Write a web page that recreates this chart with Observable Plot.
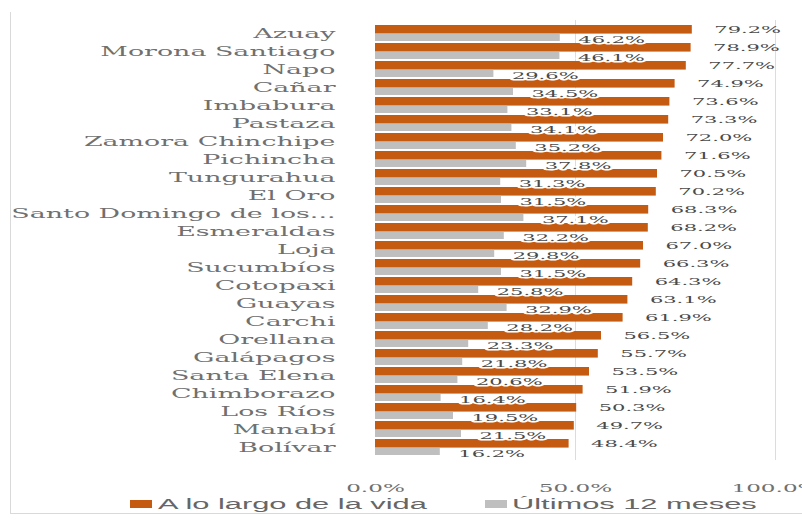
<!DOCTYPE html>
<html><head><meta charset="utf-8">
<script src="https://cdn.jsdelivr.net/npm/d3@7"></script>
<script src="https://cdn.jsdelivr.net/npm/@observablehq/plot@0.6"></script>
<style>
body{margin:0;background:#fff;}
#wrap{position:relative;width:802px;height:521px;overflow:hidden;background:#fff;}
#frame{position:absolute;left:10px;top:12px;width:792px;height:501px;border-left:1px solid #d9d9d9;border-bottom:1px solid #d9d9d9;pointer-events:none;}
#chart{position:absolute;left:0;top:0;}
#chart svg{overflow:visible;}
.sw{position:absolute;width:22px;height:8px;top:500px;}
.lt{position:absolute;top:495px;font-family:"Liberation Sans",Arial,sans-serif;font-size:14px;line-height:18px;color:#666;transform:scaleX(2.2);transform-origin:left center;white-space:nowrap;}
</style></head>
<body>
<div id="wrap">
  <div id="chart"></div>
  <div id="legend"></div>
  <div id="frame"></div>
</div>
<script>
const provinces = ["Azuay","Morona Santiago","Napo","Cañar","Imbabura","Pastaza","Zamora Chinchipe","Pichincha","Tungurahua","El Oro","Santo Domingo de los...","Esmeraldas","Loja","Sucumbíos","Cotopaxi","Guayas","Carchi","Orellana","Galápagos","Santa Elena","Chimborazo","Los Ríos","Manabí","Bolívar"];
const lifetime = [79.2,78.9,77.7,74.9,73.6,73.3,72.0,71.6,70.5,70.2,68.3,68.2,67.0,66.3,64.3,63.1,61.9,56.5,55.7,53.5,51.9,50.3,49.7,48.4];
const last12 = [46.2,46.1,29.6,34.5,33.1,34.1,35.2,37.8,31.3,31.5,37.1,32.2,29.8,31.5,25.8,32.9,28.2,23.3,21.8,20.6,16.4,19.5,21.5,16.2];
const xTicks = [0,50,100];
const seriesNames = ["A lo largo de la vida","Últimos 12 meses"];
const seriesColors = ["#C55A11","#BFBFBF"];

const rows = provinces.map((p,i)=>({province:p, lifetime:lifetime[i], last12:last12[i]}));
const fmt = v => v.toFixed(1) + "%";

const mt = 20, mb = 40, H = 500;
const step = (H - mt - mb) / (provinces.length - 0.1 + 0.2);
const bw = step * 0.9;

const chart = Plot.plot({
  width: 802, height: H,
  marginLeft: 375, marginRight: 27, marginTop: mt, marginBottom: mb,
  style: {background: "transparent", color: "#595959"},
  x: {domain: [0,100], axis: null},
  y: {domain: provinces, padding: 0.1, axis: null},
  marks: [
    Plot.ruleX(xTicks.slice(1), {stroke: "#dcdcdc"}),
    Plot.barX(rows, {x: "lifetime", y: "province", fill: seriesColors[0], insetBottom: bw/2 - 0.8}),
    Plot.barX(rows, {x: "last12", y: "province", fill: seriesColors[1], insetTop: bw/2 + 0.6}),
    Plot.text(rows, {x: "last12", y: "province", text: d => fmt(d.last12), dx: 18, dy: bw/4 + 2, textAnchor: "start",
      fill: "#4a4a4a", stroke: "white", strokeWidth: 3, fontSize: 10, fontFamily: "DejaVu Serif"}),
    Plot.text(rows, {x: "lifetime", y: "province", text: d => fmt(d.lifetime), dx: 22, dy: -bw/4 + 0.5, textAnchor: "start",
      fill: "#4a4a4a", fontSize: 10, fontFamily: "DejaVu Serif"}),
    Plot.axisY({tickSize: 0, tickPadding: 40, fontSize: 12.8, fontFamily: "DejaVu Serif", fill: "#707070", label: null}),
    Plot.axisX({ticks: xTicks, tickSize: 0, tickPadding: 24, tickFormat: d => d.toFixed(1) + "%", fontSize: 11, fontFamily: "DejaVu Serif", fill: "#707070", label: null})
  ]
});

const S = 2.1;
chart.querySelectorAll("text").forEach(t => {
  const x = parseFloat(t.getAttribute("x")) || 0;
  const tr = t.getAttribute("transform") || "";
  t.setAttribute("transform", `${tr} translate(${x},0) scale(${S},1) translate(${-x},0)`);
});
document.getElementById("chart").appendChild(chart);

const legend = document.getElementById("legend");
const legPos = [{sw:130, tx:158},{sw:485, tx:512}];
seriesNames.forEach((name,i) => {
  const sw = document.createElement("div");
  sw.className = "sw"; sw.style.left = legPos[i].sw + "px"; sw.style.background = seriesColors[i];
  const tx = document.createElement("div");
  tx.className = "lt"; tx.style.left = legPos[i].tx + "px"; tx.textContent = name;
  legend.appendChild(sw); legend.appendChild(tx);
});
</script>
</body></html>
